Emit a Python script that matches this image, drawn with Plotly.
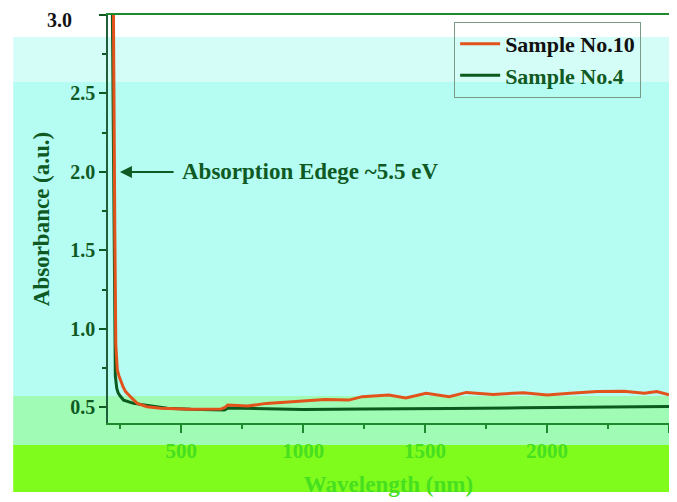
import plotly.graph_objects as go

# ---- data ----
wl_s10 = [200, 215, 222, 225, 228, 232, 238, 245, 252, 262, 272, 286, 300, 320, 360, 416,
          540, 664, 680, 691, 773, 849, 953, 1090, 1187, 1242, 1351, 1421, 1504, 1599,
          1669, 1779, 1903, 2000, 2095, 2206, 2316, 2399, 2450, 2500]
abs_s10 = [3.2, 3.2, 3.1, 2.6, 1.6, 0.9, 0.74, 0.70, 0.665, 0.63, 0.60, 0.575, 0.555, 0.525,
           0.504, 0.494, 0.487, 0.49, 0.50, 0.515, 0.508, 0.525, 0.536, 0.55, 0.546, 0.568,
           0.578, 0.56, 0.59, 0.568, 0.595, 0.582, 0.593, 0.578, 0.589, 0.60, 0.603, 0.589,
           0.60, 0.58]

wl_s4 = [200, 214, 218, 222, 226, 230, 236, 242, 250, 264, 305, 360, 443, 540, 677, 691, 842,
         1000, 1242, 1351, 1600, 1903, 2177, 2399, 2500]
abs_s4 = [3.2, 3.2, 3.0, 2.0, 1.0, 0.70, 0.62, 0.59, 0.572, 0.546, 0.525, 0.511, 0.494, 0.487,
          0.483, 0.495, 0.49, 0.486, 0.49, 0.492, 0.492, 0.497, 0.50, 0.502, 0.505]

y_ticks = [0.5, 1.0, 1.5, 2.0, 2.5, 3.0]
x_ticks = [500, 1000, 1500, 2000, 2500]

DARK = "#0f5a23"
LIME_TXT = "#46e020"
FONT = "Liberation Serif"

fig = go.Figure()
fig.add_trace(go.Scatter(x=wl_s4, y=abs_s4, mode="lines",
                         name="Sample No.4", legendrank=2,
                         line=dict(color="#0b5a1e", width=3)))
fig.add_trace(go.Scatter(x=wl_s10, y=abs_s10, mode="lines",
                         name='<span style="color:#111111">Sample No.10</span>',
                         legendrank=1,
                         line=dict(color="#e2531c", width=3)))

# background bands (paper coords)
bands = [
    (-0.169, 1.007, 0.836, 0.946, "#d5fdf7"),
    (-0.169, 1.007, 0.066, 0.836, "#b5fcf3"),
    (-0.169, 1.015, -0.054, 0.066, "#a0fcb4"),
    (-0.169, 1.015, -0.169, -0.054, "#80fc1c"),
]
for x0, x1, y0, y1, c in bands:
    fig.add_shape(type="rect", xref="paper", yref="paper", x0=x0, x1=x1, y0=y0, y1=y1,
                  fillcolor=c, line=dict(width=0), layer="below")

# arrow + label
fig.add_annotation(x=249, y=2.0, ax=475, ay=2.0, axref="x", ayref="y", text="",
                   showarrow=True, arrowhead=2, arrowsize=1.2, arrowwidth=2,
                   arrowcolor=DARK)
fig.add_annotation(x=495, y=2.0, xanchor="left", yanchor="middle", showarrow=False,
                   text="<b>Absorption Edege ~5.5 eV</b>",
                   font=dict(family=FONT, size=23, color=DARK))

# top tick label (drawn as annotation so it is not dropped at the figure edge)
y_text = ["<b>%.1f</b>" % v for v in y_ticks]
y_text[-1] = ""
fig.add_annotation(x=-0.06, y=y_ticks[-1], xref="paper", yref="y", xanchor="right",
                   yanchor="middle", yshift=-5, showarrow=False, text="<b>3.0</b>",
                   font=dict(family=FONT, size=20, color="#111111"))

fig.update_layout(
    width=677, height=502,
    margin=dict(l=100, r=16, t=7, b=87),
    paper_bgcolor="white", plot_bgcolor="rgba(0,0,0,0)",
    font=dict(family=FONT, size=17, color=DARK),
    showlegend=True,
    legend=dict(x=0.617, y=0.983, xanchor="left", yanchor="top",
                bgcolor="rgba(0,0,0,0)", bordercolor="#7a9a88", borderwidth=1,
                font=dict(family=FONT, size=22, color=DARK, weight="bold"),
                tracegroupgap=0, itemwidth=40),
    xaxis=dict(range=[200, 2500], tickvals=x_ticks,
               ticktext=["<b>%d</b>" % v for v in x_ticks],
               ticks="outside", ticklen=8, tickwidth=1.5, tickcolor="#1e8a2e",
               minor=dict(ticks="outside", ticklen=4, dtick=250, tick0=250,
                          tickcolor="#1e8a2e"),
               showline=True, linecolor="#1e8a2e", linewidth=1.5, mirror=True,
               showgrid=False, zeroline=False, automargin=False,
               tickfont=dict(family=FONT, size=21, color=LIME_TXT),
               title=dict(text="<b>Wavelength (nm)</b>",
                          font=dict(family=FONT, size=23, color=LIME_TXT),
                          standoff=14)),
    yaxis=dict(range=[0.4, 3.0], tickvals=y_ticks, ticktext=y_text,
               ticks="outside", ticklen=7, tickwidth=1.5, tickcolor=DARK,
               minor=dict(ticks="outside", ticklen=4, dtick=0.25, tick0=0.25,
                          tickcolor=DARK),
               showline=True, linecolor="#1f5f3a", linewidth=1.5, mirror=True,
               showgrid=False, zeroline=False, automargin=False,
               tickfont=dict(family=FONT, size=20, color=DARK),
               title=dict(text="<b>Absorbance (a.u.)</b>",
                          font=dict(family=FONT, size=23, color=DARK),
                          standoff=14)),
)

fig.write_html("out.html")
